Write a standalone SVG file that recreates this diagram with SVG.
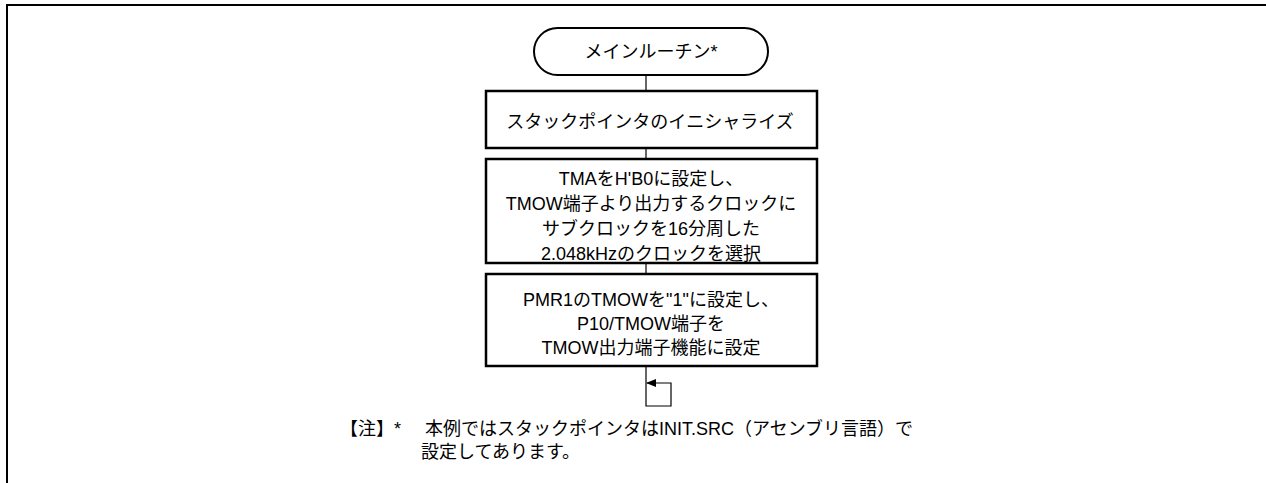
<svg xmlns="http://www.w3.org/2000/svg" width="1266" height="483" viewBox="0 0 1266 483">
<style>
.t{font-family:'Liberation Sans','Noto Sans CJK JP',sans-serif;font-size:18px;fill:#000}
.c{text-anchor:middle}
.box{fill:#fff;stroke:#000;stroke-width:2.5}
.conn{fill:none;stroke:#000;stroke-width:1.2}
</style>
<defs>
<marker id="ah" markerWidth="10" markerHeight="8" refX="9" refY="4" orient="auto" markerUnits="userSpaceOnUse">
<path d="M0,0 L10,4 L0,8 Z" fill="#000"/>
</marker>
</defs>
<rect width="1266" height="483" fill="#fff"/>
<path d="M7,483 L7,5 L1266,5" fill="none" stroke="#000" stroke-width="2"/>
<g id="connectors">
<path class="conn" d="M646,75 L646,91"/>
<path class="conn" d="M646,148 L646,159"/>
<path class="conn" d="M646,263 L646,274"/>
<path class="conn" d="M646,366 L646,406 L671,406 L671,383 L647,383" marker-end="url(#ah)"/>
</g>
<g id="start">
<rect x="534" y="28" width="234" height="47" rx="23.5" ry="23.5" fill="#fff" stroke="#000" stroke-width="2"/>
<text class="t c" x="651" y="58">メインルーチン*</text>
</g>
<g id="init-sp">
<rect class="box" x="486" y="91" width="331" height="57"/>
<text class="t c" x="650" y="128">スタックポインタのイニシャライズ</text>
</g>
<g id="set-tma">
<rect class="box" x="486" y="159" width="331" height="104"/>
<text class="t c" x="651" y="185">TMAをH'B0に設定し、</text>
<text class="t c" x="651" y="210">TMOW端子より出力するクロックに</text>
<text class="t c" x="651" y="235">サブクロックを16分周した</text>
<text class="t c" x="651" y="260">2.048kHzのクロックを選択</text>
</g>
<g id="set-pmr1">
<rect class="box" x="486" y="274" width="331" height="92"/>
<text class="t c" x="651" y="306">PMR1のTMOWを"1"に設定し、</text>
<text class="t c" x="651" y="330">P10/TMOW端子を</text>
<text class="t c" x="651" y="354">TMOW出力端子機能に設定</text>
</g>
<g id="note">
<text class="t" x="340" y="435">【注】*</text>
<text class="t" x="425" y="435">本例ではスタックポインタはINIT.SRC（アセンブリ言語）で</text>
<text class="t" x="421" y="458">設定してあります。</text>
</g>
</svg>
